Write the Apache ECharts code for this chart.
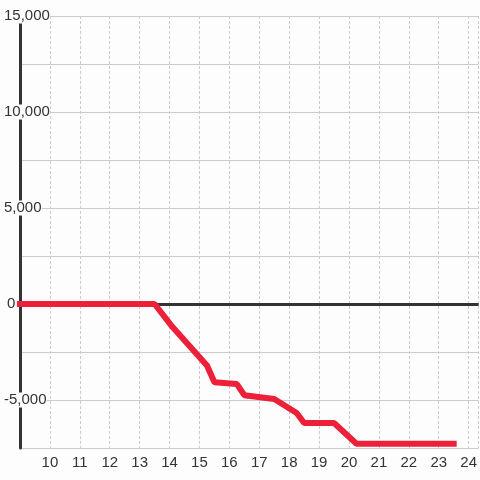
<!DOCTYPE html>
<html>
<head>
<meta charset="utf-8">
<script src="https://cdn.jsdelivr.net/npm/echarts@6/dist/echarts.min.js"></script>
<style>
  html, body { margin: 0; padding: 0; background: #fcfdfc; }
  #main { width: 480px; height: 480px; }
</style>
</head>
<body>
<div id="main"></div>
<script>
// hours of the day and running balance
var hours = [9, 13.5, 14.1, 15.25, 15.5, 16.25, 16.5, 17.5, 18.25, 18.5, 19.5, 20.25, 23.5];
var balance = [0, 0, -1200, -3200, -4080, -4170, -4750, -4950, -5680, -6200, -6200, -7280, -7280];
var baseline = 0;

var bg = '#fcfdfc';
var myChart = echarts.init(document.getElementById('main'));

var lineData = [];
for (var i = 0; i < hours.length; i++) {
    lineData.push([hours[i], balance[i]]);
}

option = {
    backgroundColor: bg,
    animation: false,
    grid: {
        left: 20,
        right: 0,
        top: 16,
        bottom: 32
    },
    xAxis: {
        type: 'value',
        min: 9,
        max: 24.333,
        interval: 1,
        axisLine: { show: false },
        axisTick: { show: false },
        axisLabel: {
            showMinLabel: false,
            showMaxLabel: false,
            color: '#333',
            fontSize: 15,
            fontFamily: 'Liberation Sans',
            margin: 7
        },
        splitLine: {
            show: true,
            lineStyle: { color: '#cccccc', width: 1, type: [3, 2] }
        }
    },
    yAxis: {
        type: 'value',
        min: -7500,
        max: 15000,
        interval: 2500,
        axisLine: {
            show: true,
            lineStyle: { color: '#333', width: 3 }
        },
        axisTick: { show: false },
        axisLabel: {
            color: '#333',
            fontSize: 15,
            fontFamily: 'Liberation Sans',
            align: 'left',
            margin: 16,
            backgroundColor: bg,
            formatter: function (v) {
                if (v % 5000 !== 0) return '';
                if (v === 0) return '{z|0}';
                return echarts.format.addCommas(v);
            },
            rich: {
                z: { padding: [0, 0, 0, 3], fontSize: 15, color: '#333' }
            }
        },
        splitLine: {
            show: true,
            lineStyle: { color: '#cccccc', width: 1 }
        }
    },
    series: [{
        name: 'balance',
        type: 'line',
        data: lineData,
        showSymbol: false,
        z: 10,
        lineStyle: { color: '#ec2038', width: 6, cap: 'square' },
        markLine: {
            silent: true,
            symbol: 'none',
            label: { show: false },
            lineStyle: { color: '#333', width: 3, type: 'solid' },
            data: [{ yAxis: baseline }]
        }
    }]
};
myChart.setOption(option);
</script>
</body>
</html>
